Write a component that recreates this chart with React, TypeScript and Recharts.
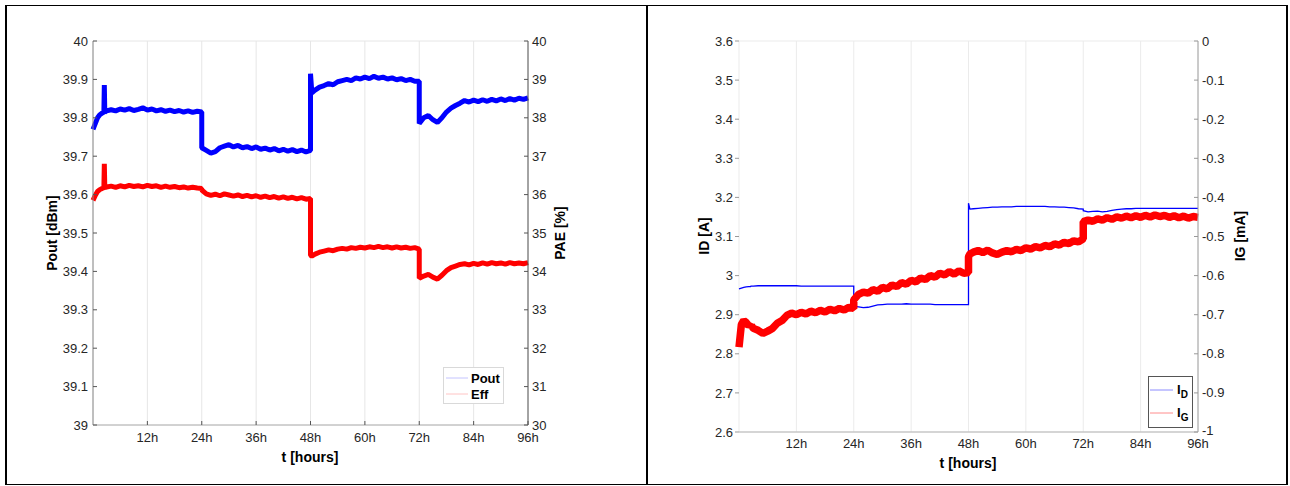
import { LineChart, Line, XAxis, YAxis, CartesianGrid, Legend, Label } from "recharts";

// shared time base (hours); duplicated points make the steps vertical
const hours = [
  0, 0.5, 1, 1.5, 2, 2.4, 2.5, 2.6, 3,
  4, 5, 6, 7, 8, 9, 10, 11, 12, 13, 14, 15, 16, 17, 18, 19, 20, 21, 22, 23,
  24, 24,
  25, 26, 27, 28, 29, 30, 31, 32, 33, 34, 35, 36, 37, 38, 39, 40, 41, 42, 43, 44, 45, 46, 47,
  48, 48, 48.3,
  49, 50, 51, 52, 53, 54, 55, 56, 57, 58, 59, 60, 61, 62, 63, 64, 65, 66, 67, 68, 69, 70, 71,
  72, 72,
  73, 74, 75, 76, 77, 78, 79, 80, 81, 82, 83, 84, 85, 86, 87, 88, 89, 90, 91, 92, 93, 94, 95, 96,
];

// Pout [dBm]
const pout = [
  39.77, 39.785, 39.8, 39.808, 39.812, 39.815, 39.885, 39.815, 39.818,
  39.821, 39.818, 39.823, 39.82, 39.824, 39.819, 39.822, 39.826, 39.82, 39.823, 39.818, 39.821, 39.817, 39.82, 39.816, 39.819, 39.815, 39.818, 39.814, 39.817,
  39.815, 39.722,
  39.715, 39.708, 39.712, 39.722, 39.726, 39.73, 39.724, 39.728, 39.722, 39.725, 39.72, 39.724, 39.718, 39.721, 39.716, 39.72, 39.714, 39.718, 39.713, 39.717, 39.712, 39.716, 39.711,
  39.715, 39.915, 39.865,
  39.872, 39.88, 39.884, 39.889, 39.886, 39.894, 39.897, 39.9, 39.897, 39.904, 39.901, 39.906, 39.902, 39.908, 39.903, 39.906, 39.901, 39.904, 39.899, 39.902, 39.897, 39.9, 39.895,
  39.895, 39.785,
  39.8, 39.806, 39.795, 39.788, 39.8, 39.815, 39.825, 39.832, 39.838, 39.845, 39.841, 39.846, 39.842, 39.847, 39.843, 39.848, 39.844, 39.849, 39.845, 39.85, 39.846, 39.851, 39.848, 39.852,
];

// PAE [%]
const eff = [
  35.85, 35.98, 36.08, 36.13, 36.16, 36.18, 36.8, 36.18, 36.2,
  36.22, 36.19, 36.23, 36.2, 36.24, 36.21, 36.23, 36.2, 36.24, 36.21, 36.23, 36.19, 36.22, 36.19, 36.21, 36.18, 36.2, 36.17, 36.19, 36.17,
  36.16, 36.12,
  36.02, 35.98, 36.01, 35.97, 36.02, 35.99, 35.96, 35.99, 35.95, 35.98, 35.94, 35.97, 35.93, 35.96, 35.92, 35.95, 35.91, 35.94, 35.9, 35.93, 35.89, 35.92, 35.88,
  35.9, 34.42, 34.4,
  34.45, 34.5, 34.53, 34.56, 34.54, 34.58, 34.6, 34.58, 34.62, 34.6, 34.63, 34.61, 34.64, 34.62, 34.65, 34.62, 34.64, 34.61, 34.64, 34.61, 34.63, 34.6, 34.62,
  34.58, 33.82,
  33.88, 33.92, 33.85, 33.8, 33.9, 34.02, 34.1, 34.14, 34.18, 34.2, 34.17, 34.21, 34.18, 34.22, 34.19, 34.23, 34.2, 34.22, 34.19, 34.23, 34.2, 34.22, 34.2, 34.23,
];

// ID [A]
const idA = [
  2.966, 2.968, 2.97, 2.971, 2.972, 2.972, 2.973, 2.973, 2.973,
  2.974, 2.974, 2.974, 2.974, 2.974, 2.974, 2.974, 2.974, 2.974, 2.973, 2.973, 2.973, 2.973, 2.973, 2.973, 2.973, 2.973, 2.973, 2.973, 2.973,
  2.973, 2.922,
  2.92, 2.918, 2.919, 2.922, 2.925, 2.926, 2.927, 2.927, 2.927, 2.927, 2.928, 2.927, 2.927, 2.927, 2.927, 2.927, 2.926, 2.926, 2.926, 2.926, 2.926, 2.926, 2.926,
  2.926, 3.185, 3.17,
  3.171, 3.172, 3.173, 3.174, 3.175, 3.175, 3.176, 3.176, 3.176, 3.177, 3.177, 3.177, 3.177, 3.177, 3.177, 3.177, 3.176, 3.176, 3.175, 3.175, 3.174, 3.173, 3.171,
  3.17, 3.166,
  3.163, 3.164, 3.165, 3.163, 3.164, 3.167, 3.169, 3.17, 3.171, 3.171, 3.172, 3.172, 3.172, 3.172, 3.172, 3.172, 3.172, 3.172, 3.172, 3.172, 3.172, 3.172, 3.172, 3.172,
];

// IG [mA]
const igMA = [
  -0.783, -0.725, -0.715, -0.72, -0.728, -0.725, -0.733, -0.728, -0.735,
  -0.74, -0.748, -0.742, -0.735, -0.722, -0.715, -0.702, -0.696, -0.7, -0.694, -0.698, -0.691, -0.695, -0.689, -0.693, -0.686, -0.69, -0.684, -0.688, -0.681,
  -0.684, -0.662,
  -0.648, -0.642, -0.645, -0.636, -0.64, -0.63, -0.634, -0.624, -0.628, -0.618, -0.622, -0.612, -0.616, -0.606, -0.61, -0.6, -0.604, -0.594, -0.598, -0.59, -0.596, -0.588, -0.594,
  -0.592, -0.552, -0.545,
  -0.54, -0.536, -0.541, -0.535, -0.542, -0.546, -0.54, -0.536, -0.539, -0.533, -0.536, -0.529, -0.532, -0.526, -0.529, -0.523, -0.526, -0.519, -0.522, -0.515, -0.518, -0.511, -0.514,
  -0.506, -0.462,
  -0.458, -0.461, -0.455, -0.458, -0.452, -0.456, -0.45, -0.453, -0.448, -0.452, -0.447, -0.451, -0.446, -0.45, -0.445, -0.449, -0.446, -0.451, -0.447, -0.452, -0.448, -0.453, -0.449, -0.451,
];

const hourTicks = [12, 24, 36, 48, 60, 72, 84, 96];
const poutTicks = [39, 39.1, 39.2, 39.3, 39.4, 39.5, 39.6, 39.7, 39.8, 39.9, 40];
const paeTicks = [30, 31, 32, 33, 34, 35, 36, 37, 38, 39, 40];
const idTicks = [2.6, 2.7, 2.8, 2.9, 3, 3.1, 3.2, 3.3, 3.4, 3.5, 3.6];
const igTicks = [-1, -0.9, -0.8, -0.7, -0.6, -0.5, -0.4, -0.3, -0.2, -0.1, 0];

const leftRows = hours.map((t, i) => ({ t, pout: pout[i], eff: eff[i] }));
const rightRows = hours.map((t, i) => ({ t, id: idA[i], ig: igMA[i] }));

const FONT = "'Liberation Sans', Arial, sans-serif";
const TICK_COLOR = "#262626";
const fmt = (v: number) => String(Number(v.toFixed(1)));
const fmtH = (v: number) => `${v}h`;

// tick label outside, small tick mark drawn inside the plot
const yTick = (side: "left" | "right", margin: number, inner: number, color: string, dyFix = 0) => (props: any) => {
  const { x, y, payload } = props;
  const ax = side === "left" ? x + margin : x - margin;
  const dir = side === "left" ? 1 : -1;
  return (
    <g>
      {inner > 0 && <line x1={ax} x2={ax + dir * inner} y1={y} y2={y} stroke={color} />}
      <text x={x} y={y + (payload.value === -1 ? dyFix : 0)} dy="0.35em" textAnchor={side === "left" ? "end" : "start"} fontSize={13} fontFamily={FONT} fill={TICK_COLOR}>
        {fmt(payload.value)}
      </text>
    </g>
  );
};

const xTick = (margin: number, inner: number, color: string) => (props: any) => {
  const { x, y, payload } = props;
  const ay = y - margin;
  return (
    <g>
      {inner > 0 && <line x1={x} x2={x} y1={ay} y2={ay - inner} stroke={color} />}
      <text x={x} y={y} dy="0.71em" textAnchor="middle" fontSize={13} fontFamily={FONT} fill={TICK_COLOR}>
        {fmtH(payload.value)}
      </text>
    </g>
  );
};

const vTitle = (text: string, x: number, y: number) => () => (
  <text x={x} y={y} transform={`rotate(-90 ${x} ${y})`} textAnchor="middle" dominantBaseline="central" fontSize={14} fontWeight="bold" fontFamily={FONT} fill="#000">
    {text}
  </text>
);

const hTitle = (text: string, x: number, y: number) => () => (
  <text x={x} y={y} textAnchor="middle" dominantBaseline="central" fontSize={14} fontWeight="bold" fontFamily={FONT} fill="#000">
    {text}
  </text>
);

function LeftLegend() {
  return (
    <svg width={61} height={37} style={{ display: "block" }}>
      <rect x={0.5} y={0.5} width={60} height={36} fill="#fff" stroke="#d9d9d9" />
      <line x1={3} x2={25} y1={11} y2={11} stroke="#c4c4ff" />
      <line x1={3} x2={25} y1={27} y2={27} stroke="#ffc4c4" />
      <text x={28} y={11} dy="0.35em" fontSize={13} fontWeight="bold" fontFamily={FONT}>Pout</text>
      <text x={28} y={27} dy="0.35em" fontSize={13} fontWeight="bold" fontFamily={FONT}>Eff</text>
    </svg>
  );
}

function RightLegend() {
  return (
    <svg width={45} height={52} style={{ display: "block" }}>
      <rect x={0.5} y={0.5} width={44} height={51} fill="#fff" stroke="#555" />
      <line x1={2} x2={25} y1={14} y2={14} stroke="#8c8cff" />
      <line x1={2} x2={25} y1={37} y2={37} stroke="#ff8c8c" />
      <text x={29} y={18} fontSize={13} fontWeight="bold" fontFamily={FONT}>
        I<tspan fontSize={10} dy={4}>D</tspan>
      </text>
      <text x={29} y={41} fontSize={13} fontWeight="bold" fontFamily={FONT}>
        I<tspan fontSize={10} dy={4}>G</tspan>
      </text>
    </svg>
  );
}

function PoutChart() {
  return (
    <LineChart width={647} height={486} data={leftRows} margin={{ top: 41, right: 0, bottom: 0, left: 0 }}>
      <CartesianGrid stroke="#e6e6e6" />
      <XAxis
        type="number"
        dataKey="t"
        domain={[0, 96]}
        ticks={hourTicks}
        height={61}
        tickSize={0}
        tickMargin={8}
        tickLine={false}
        axisLine={{ stroke: "#b0b0b0" }}
        tick={xTick(8, 4, "#555")}
      >
        <Label content={hTitle("t [hours]", 310, 457)} />
      </XAxis>
      <YAxis
        yAxisId="left"
        domain={[39, 40]}
        ticks={poutTicks}
        width={93}
        tickSize={0}
        tickMargin={5}
        tickLine={false}
        axisLine={{ stroke: "#8a8a8a" }}
        tick={yTick("left", 5, 4, "#555")}
        allowDataOverflow
      >
        <Label content={vTitle("Pout [dBm]", 52, 233)} />
      </YAxis>
      <YAxis
        yAxisId="right"
        orientation="right"
        domain={[30, 40]}
        ticks={paeTicks}
        width={119}
        tickSize={0}
        tickMargin={4}
        tickLine={false}
        axisLine={{ stroke: "#555" }}
        tick={yTick("right", 4, 4, "#555")}
        allowDataOverflow
      >
        <Label content={vTitle("PAE [%]", 560, 233)} />
      </YAxis>
      <Line yAxisId="left" dataKey="pout" stroke="#0000ff" strokeWidth={5} strokeLinejoin="bevel" dot={false} isAnimationActive={false} />
      <Line yAxisId="right" dataKey="eff" stroke="#ff0000" strokeWidth={5} strokeLinejoin="bevel" dot={false} isAnimationActive={false} />
      <Legend
        layout="vertical"
        align="center"
        verticalAlign="middle"
        content={() => <LeftLegend />}
        wrapperStyle={{ left: 443, top: 367, width: 61, height: 37 }}
      />
    </LineChart>
  );
}

function CurrentChart() {
  return (
    <LineChart width={643} height={486} data={rightRows} margin={{ top: 41, right: 0, bottom: 0, left: 0 }}>
      <CartesianGrid stroke="#ebebeb" />
      <XAxis
        type="number"
        dataKey="t"
        domain={[0, 96]}
        ticks={hourTicks}
        height={54}
        tickSize={0}
        tickMargin={7}
        tickLine={false}
        axisLine={{ stroke: "#b5b5b5" }}
        tick={xTick(7, 0, "#999")}
      >
        <Label content={hTitle("t [hours]", 321, 463)} />
      </XAxis>
      <YAxis
        yAxisId="left"
        domain={[2.6, 3.6]}
        ticks={idTicks}
        width={92}
        tickSize={4}
        tickMargin={2}
        tickLine={{ stroke: "#999" }}
        axisLine={false}
        tickFormatter={fmt}
        tick={{ fontSize: 13, fontFamily: FONT, fill: TICK_COLOR }}
        allowDataOverflow
      >
        <Label content={vTitle("ID [A]", 57, 236)} />
      </YAxis>
      <YAxis
        yAxisId="right"
        orientation="right"
        domain={[-1, 0]}
        ticks={igTicks}
        width={92}
        tickSize={0}
        tickMargin={4}
        tickLine={false}
        axisLine={{ stroke: "#a0a0a0" }}
        tick={yTick("right", 4, 4, "#999", -2)}
        allowDataOverflow
      >
        <Label content={vTitle("IG [mA]", 593, 236)} />
      </YAxis>
      <Line yAxisId="left" dataKey="id" stroke="#0000ff" strokeWidth={1.3} dot={false} isAnimationActive={false} />
      <Line yAxisId="right" dataKey="ig" stroke="#ff0000" strokeWidth={7.5} strokeLinejoin="bevel" dot={false} isAnimationActive={false} />
      <Legend
        layout="vertical"
        align="center"
        verticalAlign="middle"
        content={() => <RightLegend />}
        wrapperStyle={{ left: 501, top: 376, width: 45, height: 52 }}
      />
    </LineChart>
  );
}

export default function App() {
  return (
    <div style={{ position: "absolute", left: 0, top: 0, width: 1290, height: 486, background: "#fff" }}>
      <div style={{ position: "absolute", left: 5, top: 5, width: 642, height: 480, boxSizing: "border-box", borderTop: "1px solid #000", borderBottom: "1px solid #000", borderLeft: "2px solid #000", borderRight: "1px solid #000" }} />
      <div style={{ position: "absolute", left: 646, top: 5, width: 642, height: 480, boxSizing: "border-box", borderTop: "1px solid #000", borderBottom: "1px solid #000", borderLeft: "2px solid #000", borderRight: "2px solid #000" }} />
      <div style={{ position: "absolute", left: 0, top: 0 }}>
        <PoutChart />
      </div>
      <div style={{ position: "absolute", left: 647, top: 0 }}>
        <CurrentChart />
      </div>
    </div>
  );
}
